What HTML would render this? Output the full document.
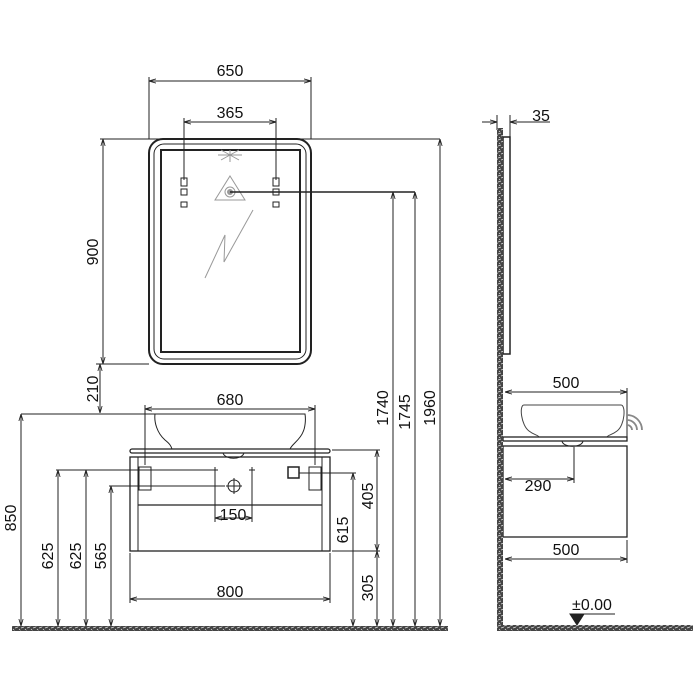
<!DOCTYPE html>
<html><head><style>body{margin:0;background:#fff}svg{display:block}text{font-family:"Liberation Sans",sans-serif;font-size:16px;fill:#111}</style></head><body>
<svg width="700" height="700" viewBox="0 0 700 700" xmlns="http://www.w3.org/2000/svg">
<defs>
<marker id="a" viewBox="0 0 10 10" refX="10" refY="5" markerWidth="7" markerHeight="7" orient="auto-start-reverse"><path d="M0,2 L10,5 L0,8" fill="none" stroke="#222" stroke-width="1.2"/></marker>
<pattern id="h" width="6" height="6" patternUnits="userSpaceOnUse"><rect width="6" height="6" fill="#444"/><path d="M0,2 L3,1 M3,4 L6,3 M1,5 L2,6" stroke="#ddd" stroke-width="0.8"/></pattern>
</defs>
<g stroke="#222" stroke-width="1" fill="none">
<rect x="149" y="139" width="162" height="225" rx="14" stroke-width="2"/>
<rect x="154" y="144" width="152" height="215" rx="10"/>
<rect x="161" y="150" width="139" height="202" stroke-width="2"/>
<line x1="149" y1="77" x2="149" y2="139"/><line x1="311" y1="77" x2="311" y2="139"/>
<line x1="149" y1="81" x2="311" y2="81" marker-start="url(#a)" marker-end="url(#a)"/>
<line x1="184" y1="118" x2="184" y2="180"/><line x1="276" y1="118" x2="276" y2="180"/>
<line x1="184" y1="122" x2="276" y2="122" marker-start="url(#a)" marker-end="url(#a)"/>
<rect x="181" y="178" width="6" height="8"/><rect x="181" y="189" width="6" height="6"/><rect x="181" y="202" width="6" height="5"/>
<rect x="273" y="178" width="6" height="8"/><rect x="273" y="189" width="6" height="6"/><rect x="273" y="202" width="6" height="5"/>
<g stroke="#999"><path d="M230,176 L245,200 L215,200 Z"/><circle cx="230" cy="192" r="5"/><path d="M218,155 L242,155 M230,150 L230,162 M221,150 L239,160 M239,150 L221,160"/><path d="M205,278 L225,235 L224,262 L253,210"/></g>
<circle cx="230" cy="192" r="3" fill="#999" stroke="none"/>
<line x1="230" y1="192" x2="415" y2="192" stroke-width="1.5"/>
<line x1="100" y1="139" x2="440" y2="139"/>
<line x1="103" y1="139" x2="103" y2="364" marker-start="url(#a)" marker-end="url(#a)"/>
<line x1="96" y1="364" x2="149" y2="364"/>
<line x1="100" y1="364" x2="100" y2="413" marker-start="url(#a)" marker-end="url(#a)"/>
<line x1="21" y1="414" x2="160" y2="414"/>
<line x1="21" y1="414" x2="21" y2="626" marker-start="url(#a)" marker-end="url(#a)"/>
<line x1="56" y1="470" x2="150" y2="470"/>
<line x1="58" y1="470" x2="58" y2="626" marker-start="url(#a)" marker-end="url(#a)"/>
<line x1="86" y1="470" x2="86" y2="626" marker-start="url(#a)" marker-end="url(#a)"/>
<line x1="109" y1="486" x2="225" y2="486"/>
<line x1="111" y1="486" x2="111" y2="626" marker-start="url(#a)" marker-end="url(#a)"/>
<line x1="150" y1="470" x2="215" y2="470"/>
<path d="M155,414 L305,414 C306,420 305,428 303,432 C300,440 292,444 290,449 M155,414 C154,422 157,433 165,440 C170,444 171,446 172,449"/>
<line x1="145" y1="409" x2="315" y2="409" marker-start="url(#a)" marker-end="url(#a)"/>
<line x1="145" y1="405" x2="145" y2="465"/><line x1="315" y1="405" x2="315" y2="465"/>
<rect x="130" y="449" width="200" height="4" rx="2" stroke-width="1.3"/>
<path d="M223,453 C225,460 242,460 244,453" />
<rect x="130" y="457" width="200" height="94" stroke-width="1.3"/>
<line x1="138" y1="457" x2="138" y2="551"/><line x1="322" y1="457" x2="322" y2="551"/>
<line x1="138" y1="505" x2="322" y2="505" stroke-width="1.3"/>
<rect x="139" y="467" width="12" height="23"/><rect x="309" y="467" width="12" height="23"/>
<rect x="288" y="467" width="11" height="11" stroke-width="1.5"/>
<circle cx="234" cy="486" r="6"/><path d="M234,478 v16 M226,486 h16"/>
<path d="M215,467 v6 M212,470 h6 M252,467 v6 M249,470 h6"/>
<line x1="215" y1="470" x2="215" y2="522"/><line x1="252" y1="470" x2="252" y2="522"/>
<line x1="215" y1="518" x2="252" y2="518" marker-start="url(#a)" marker-end="url(#a)"/>
<line x1="299" y1="473" x2="356" y2="473"/>
<line x1="353" y1="473" x2="353" y2="626" marker-start="url(#a)" marker-end="url(#a)"/>
<line x1="332" y1="450" x2="380" y2="450"/><line x1="332" y1="551" x2="380" y2="551"/>
<line x1="377" y1="450" x2="377" y2="551" marker-start="url(#a)" marker-end="url(#a)"/>
<line x1="377" y1="551" x2="377" y2="626" marker-start="url(#a)" marker-end="url(#a)"/>
<line x1="130" y1="553" x2="130" y2="603"/><line x1="330" y1="553" x2="330" y2="603"/>
<line x1="130" y1="599" x2="330" y2="599" marker-start="url(#a)" marker-end="url(#a)"/>
<line x1="393" y1="192" x2="393" y2="626" marker-start="url(#a)" marker-end="url(#a)"/>
<line x1="415" y1="192" x2="415" y2="626" marker-start="url(#a)" marker-end="url(#a)"/>
<line x1="440" y1="139" x2="440" y2="626" marker-start="url(#a)" marker-end="url(#a)"/>
<rect x="503" y="137" width="7" height="217" stroke-width="1.5"/>
<line x1="482" y1="122" x2="497" y2="122" marker-end="url(#a)"/>
<line x1="527" y1="122" x2="510" y2="122" marker-end="url(#a)"/>
<line x1="497" y1="115" x2="497" y2="130"/><line x1="510" y1="115" x2="510" y2="137"/>
<line x1="527" y1="122" x2="550" y2="122"/>
<line x1="505" y1="392" x2="627" y2="392" marker-start="url(#a)" marker-end="url(#a)"/>
<line x1="627" y1="388" x2="627" y2="440"/>
<path d="M524,405 L621,405 C626,405 625,425 617,431 C612,435 608,435 607,437 M524,405 C519,405 521,425 529,431 C534,435 538,435 539,437" stroke="#444"/>
<path d="M627,420 a10,10 0 0 1 10,10 M627,425 a5,5 0 0 1 5,5 M627,415 a15,15 0 0 1 15,15" stroke="#888" stroke-width="1.8"/>
<rect x="503" y="437" width="124" height="4" stroke-width="1.3"/>
<path d="M562,441 C563,448 582,448 583,441"/>
<rect x="503" y="446" width="124" height="91" stroke-width="1.3"/>
<line x1="574" y1="447" x2="574" y2="483"/>
<line x1="505" y1="479" x2="574" y2="479" marker-start="url(#a)" marker-end="url(#a)"/>
<line x1="627" y1="540" x2="627" y2="563"/>
<line x1="505" y1="559" x2="627" y2="559" marker-start="url(#a)" marker-end="url(#a)"/>
<path d="M570,614 L584,614 L577,625 Z" fill="#222"/>
<line x1="570" y1="614" x2="615" y2="614"/>
</g>
<rect x="12" y="626" width="436" height="5" fill="url(#h)"/>
<rect x="497" y="128" width="6" height="503" fill="url(#h)"/>
<rect x="497" y="625" width="196" height="6" fill="url(#h)"/>
<text x="230" y="76" text-anchor="middle">650</text>
<text x="230" y="118" text-anchor="middle">365</text>
<text x="230" y="405" text-anchor="middle">680</text>
<text x="233" y="520" text-anchor="middle">150</text>
<text x="230" y="597" text-anchor="middle">800</text>
<text x="566" y="388" text-anchor="middle">500</text>
<text x="538" y="491" text-anchor="middle">290</text>
<text x="566" y="555" text-anchor="middle">500</text>
<text x="541" y="121" text-anchor="middle">35</text>
<text x="592" y="610" text-anchor="middle">±0.00</text>
<text transform="translate(98,252) rotate(-90)" text-anchor="middle">900</text>
<text transform="translate(98,389) rotate(-90)" text-anchor="middle">210</text>
<text transform="translate(16,518) rotate(-90)" text-anchor="middle">850</text>
<text transform="translate(53,556) rotate(-90)" text-anchor="middle">625</text>
<text transform="translate(81,556) rotate(-90)" text-anchor="middle">625</text>
<text transform="translate(106,556) rotate(-90)" text-anchor="middle">565</text>
<text transform="translate(348,530) rotate(-90)" text-anchor="middle">615</text>
<text transform="translate(373,496) rotate(-90)" text-anchor="middle">405</text>
<text transform="translate(373,588) rotate(-90)" text-anchor="middle">305</text>
<text transform="translate(388,408) rotate(-90)" text-anchor="middle">1740</text>
<text transform="translate(410,412) rotate(-90)" text-anchor="middle">1745</text>
<text transform="translate(435,408) rotate(-90)" text-anchor="middle">1960</text>
</svg>
</body></html>
